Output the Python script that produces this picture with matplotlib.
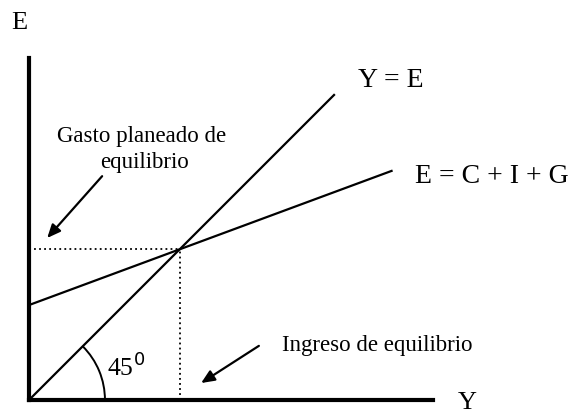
import numpy as np
import matplotlib
matplotlib.use("Agg")
import matplotlib.pyplot as plt
from matplotlib.patches import Arc

plt.rcParams['font.family'] = ['Liberation Serif', 'DejaVu Serif']

# Model values (arbitrary units)
autonomous = 2.35      # C + I + G intercept
mpc = 0.37             # slope of E = C + I + G
y_eq = autonomous / (1 - mpc)   # equilibrium income
line45_end = 7.57
agg_end = 9.0

labels = {
    "yaxis": "E",
    "xaxis": "Y",
    "line45": "Y = E",
    "agg": "E = C + I + G",
    "gasto1": "Gasto planeado de",
    "gasto2": "equilibrio",
    "ingreso": "Ingreso de equilibrio",
    "angle": "45$^0$",
}

fig = plt.figure(figsize=(5.75, 4.13), dpi=100)
ax = fig.add_axes([29/575, 13/413, 404/575, 342/413])
ax.set_xlim(0, 10)
ax.set_ylim(0, 342/40.4)

for s in ["top", "right"]:
    ax.spines[s].set_visible(False)
for s in ["left", "bottom"]:
    ax.spines[s].set_linewidth(3)
ax.set_xticks([])
ax.set_yticks([])

# 45 degree line
x45 = np.array([0, line45_end])
ax.plot(x45, x45, color="black", lw=1.6, solid_capstyle="butt")

# Aggregate expenditure
xa = np.array([0, agg_end])
ax.plot(xa, autonomous + mpc * xa, color="black", lw=1.6, solid_capstyle="butt")

# Dotted guides
e_eq = autonomous + mpc * y_eq
ax.plot([0, y_eq], [e_eq, e_eq], color="black", lw=1.3, ls=(0, (1, 1.8)))
ax.plot([y_eq, y_eq], [0, e_eq], color="black", lw=1.3, ls=(0, (1, 1.8)))

# Angle arc
arc = Arc((0, 0), 2 * 1.88, 2 * 1.88, theta1=0, theta2=45, color="black", lw=1.4)
ax.add_patch(arc)

# Texts
ax.text(-0.235, 9.34, labels["yaxis"], fontsize=19, ha="center", va="center")
ax.text(10.84, -0.07, labels["xaxis"], fontsize=19, ha="center", va="center")
ax.text(8.14, 7.92, labels["line45"], fontsize=20, ha="left", va="center")
ax.text(9.55, 5.52, labels["agg"], fontsize=20, ha="left", va="center")
ax.text(2.78, 6.51, labels["gasto1"], fontsize=16.5, ha="center", va="center")
ax.text(2.87, 5.87, labels["gasto2"], fontsize=16.5, ha="center", va="center")
ax.text(6.26, 1.36, labels["ingreso"], fontsize=16.5, ha="left", va="center")
ax.text(1.93, 0.82, labels["angle"], fontsize=18.5, ha="left", va="center")

# Arrows
ax.annotate("", xy=(0.45, 4.01), xytext=(1.81, 5.54), annotation_clip=False,
            arrowprops=dict(arrowstyle="-|>,head_length=0.8,head_width=0.35",
                            color="black", lw=1.6, shrinkA=0, shrinkB=0))
ax.annotate("", xy=(4.26, 0.42), xytext=(5.69, 1.34), annotation_clip=False,
            arrowprops=dict(arrowstyle="-|>,head_length=0.8,head_width=0.35",
                            color="black", lw=1.6, shrinkA=0, shrinkB=0))

fig.savefig("out.png", dpi=100)
